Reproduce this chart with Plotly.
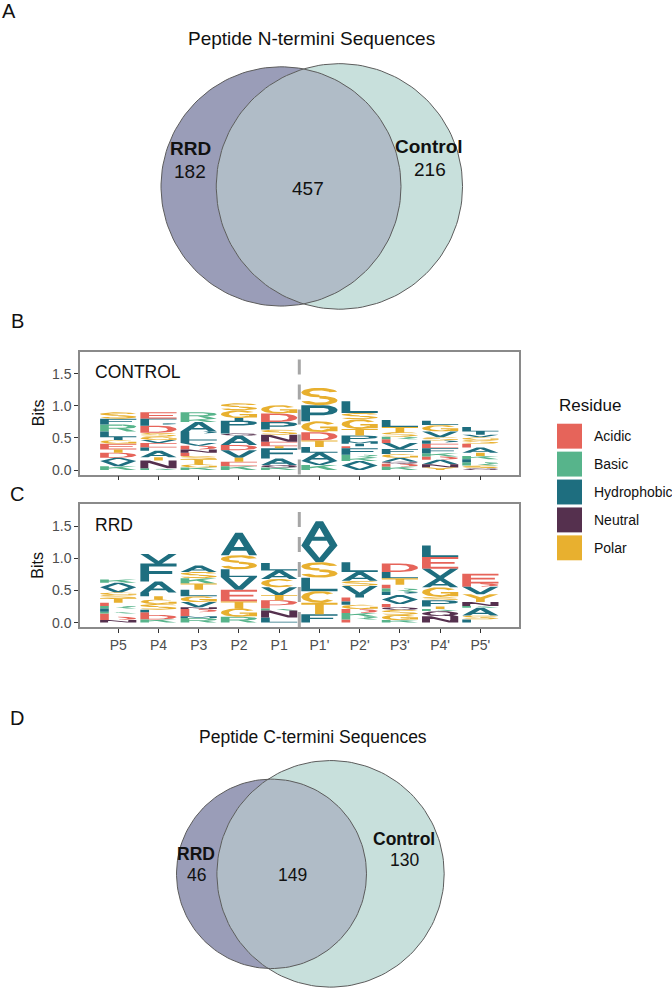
import math
import numpy as np
import plotly.graph_objects as go

# ---------------- data ----------------
set_names = ["RRD", "Control"]
n_termini_unique = [182, 216]
n_termini_shared = 457
c_termini_unique = [46, 130]
c_termini_shared = 149
n_title = "Peptide N-termini Sequences"
c_title = "Peptide C-termini Sequences"

positions = ["P5", "P4", "P3", "P2", "P1", "P1'", "P2'", "P3'", "P4'", "P5'"]
cleavage_between = 5.5

residue_classes = ["Acidic", "Basic", "Hydrophobic", "Neutral", "Polar"]
residue_members = ["DE", "KRH", "AVLIMFWP", "NQ", "GSTYC"]
residue_colors = ["#E6645A", "#57B48B", "#1E6E7F", "#55304E", "#E8B02F"]

# letters listed bottom -> top for each position, with their heights (bits)
control_letters = ["KVADTEGILRFS", "KNTALEVGSDPFE", "KGTSENDVFLPAKR", "KETVDAQLFPIGS",
                   "KQAFTENSPDG", "KVALTDGPS", "VAKRFEIMPTGSL", "KDQAGFVERSTL",
                   "YNADKFEPSVGL", "QSRFKTAESGVIL"]
control_bits = [
    [.06, .08, .05, .08, .05, .09, .06, .04, .09, .11, .09, .10],
    [.03, .12, .05, .10, .05, .07, .05, .05, .06, .11, .04, .07, .10],
    [.04, .05, .08, .05, .05, .05, .06, .04, .04, .09, .05, .15, .05, .10],
    [.06, .07, .06, .12, .08, .15, .03, .04, .04, .12, .04, .12, .11],
    [.04, .04, .10, .16, .03, .07, .11, .08, .12, .13, .13],
    [.08, .06, .13, .09, .10, .13, .17, .25, .27],
    [.07, .07, .05, .05, .10, .03, .04, .04, .09, .10, .15, .10, .18],
    [.05, .05, .03, .06, .06, .08, .09, .06, .04, .07, .08, .11],
    [.04, .05, .07, .05, .05, .08, .07, .05, .05, .09, .10, .07],
    [.03, .04, .05, .05, .05, .05, .08, .06, .06, .04, .04, .05, .07],
]
rrd_letters = ["NDEKLRETSGVAK", "KDELSGTLAFV", "RMEDNVGLTKSA", "RGTEVLSA", "LNKEDTVCAL",
               "FTCLSVA", "ERKDGFEIVSAL", "KGSQEVAPRETLD", "NQKTPSGAVEL", "LSAKNYVDE"]
rrd_bits = [
    [.04, .05, .05, .03, .05, .04, .05, .07, .05, .04, .08, .07, .05],
    [.05, .07, .04, .04, .09, .07, .05, .06, .17, .28, .15],
    [.07, .03, .06, .05, .03, .08, .09, .10, .10, .08, .10, .10],
    [.09, .13, .11, .18, .20, .12, .22, .35],
    [.08, .11, .03, .05, .08, .08, .12, .13, .13, .12],
    [.13, .18, .18, .21, .24, .26, .38],
    [.05, .04, .06, .06, .07, .05, .06, .04, .14, .08, .14, .15],
    [.04, .08, .08, .04, .05, .07, .07, .05, .05, .06, .10, .10, .13],
    [.10, .08, .03, .04, .10, .05, .15, .14, .15, .18, .18],
    [.05, .06, .12, .03, .06, .12, .12, .05, .15],
]

# ---------------- helpers ----------------
W, H = 672, 991
FONT = "Liberation Sans, Arial, Helvetica, sans-serif"


def px(x):
    return x / W


def py(y):
    return 1 - y / H


def rect(x0, y0, x1, y1):
    return [(x0, y0), (x1, y0), (x1, y1), (x0, y1)]


def arc(cx, cy, rx, ry, tx, ty, a0, a1, n=28):
    a = np.radians(np.linspace(a0, a1, n))
    outer = [(cx + rx * math.cos(t), cy + ry * math.sin(t)) for t in a]
    inner = [(cx + (rx - tx) * math.cos(t), cy + (ry - ty) * math.sin(t)) for t in a[::-1]]
    return outer + inner


P_BOWL = [rect(0, 0, 0.24, 1), rect(0, 0.83, 0.62, 1), rect(0, 0.38, 0.62, 0.55),
          arc(0.62, 0.69, 0.38, 0.31, 0.24, 0.17, -90, 90)]
GLYPHS = {
    "A": [[(0, 0), (0.22, 0), (0.6, 1), (0.4, 1)], [(0.78, 0), (1, 0), (0.6, 1), (0.4, 1)],
          rect(0.18, 0.2, 0.82, 0.36)],
    "V": [[(0, 1), (0.22, 1), (0.6, 0), (0.4, 0)], [(0.78, 1), (1, 1), (0.6, 0), (0.4, 0)]],
    "L": [rect(0, 0, 0.24, 1), rect(0, 0, 1, 0.17)],
    "T": [rect(0, 0.83, 1, 1), rect(0.38, 0, 0.62, 1)],
    "I": [rect(0.38, 0, 0.62, 1), rect(0.15, 0.85, 0.85, 1), rect(0.15, 0, 0.85, 0.15)],
    "E": [rect(0, 0, 0.24, 1), rect(0, 0.83, 1, 1), rect(0, 0.42, 0.9, 0.58), rect(0, 0, 1, 0.17)],
    "F": [rect(0, 0, 0.24, 1), rect(0, 0.83, 1, 1), rect(0, 0.42, 0.88, 0.58)],
    "P": P_BOWL,
    "R": P_BOWL + [[(0.42, 0.45), (0.68, 0.45), (1, 0), (0.74, 0)]],
    "D": [rect(0, 0, 0.24, 1), rect(0, 0.83, 0.5, 1), rect(0, 0, 0.5, 0.17),
          arc(0.5, 0.5, 0.5, 0.5, 0.24, 0.17, -90, 90)],
    "K": [rect(0, 0, 0.24, 1), [(0.2, 0.32), (1, 1), (0.7, 1), (0.2, 0.62)],
          [(0.42, 0.55), (0.72, 0), (1, 0), (0.62, 0.68)]],
    "N": [rect(0, 0, 0.22, 1), rect(0.78, 0, 1, 1), [(0, 1), (0.26, 1), (1, 0), (0.74, 0)]],
    "M": [rect(0, 0, 0.2, 1), rect(0.8, 0, 1, 1), [(0, 1), (0.22, 1), (0.58, 0.15), (0.42, 0.15)],
          [(1, 1), (0.78, 1), (0.42, 0.15), (0.58, 0.15)]],
    "H": [rect(0, 0, 0.24, 1), rect(0.76, 0, 1, 1), rect(0, 0.42, 1, 0.58)],
    "W": [[(0, 1), (0.18, 1), (0.35, 0), (0.2, 0)], [(0.5, 0.75), (0.35, 0), (0.2, 0)],
          [(1, 1), (0.82, 1), (0.65, 0), (0.8, 0)], [(0.5, 0.75), (0.65, 0), (0.8, 0)]],
    "Y": [[(0, 1), (0.24, 1), (0.62, 0.42), (0.38, 0.42)], [(1, 1), (0.76, 1), (0.38, 0.42), (0.62, 0.42)],
          rect(0.38, 0, 0.62, 0.5)],
    "S": [arc(0.5, 0.73, 0.5, 0.27, 0.22, 0.15, 10, 270), arc(0.5, 0.27, 0.5, 0.27, 0.22, 0.15, 90, -170)],
    "G": [arc(0.5, 0.5, 0.5, 0.5, 0.22, 0.17, 35, 325), rect(0.52, 0.36, 1, 0.52), rect(0.78, 0.08, 1, 0.52)],
    "C": [arc(0.5, 0.5, 0.5, 0.5, 0.22, 0.17, 40, 320)],
    "Q": [arc(0.5, 0.5, 0.5, 0.5, 0.22, 0.17, 0, 360, n=40), [(0.55, 0.32), (0.78, 0.32), (1, 0), (0.77, 0)]],
}


def ccw(poly):
    s = 0.0
    for (x0, y0), (x1, y1) in zip(poly, poly[1:] + poly[:1]):
        s += x0 * y1 - x1 * y0
    return poly if s >= 0 else poly[::-1]


def class_of(ch):
    for k, members in enumerate(residue_members):
        if ch in members:
            return k
    return 2


def logo_traces(letters, bits, xa, ya, width=0.9):
    xs = [[] for _ in residue_classes]
    ys = [[] for _ in residue_classes]
    for i, (lets, hs) in enumerate(zip(letters, bits)):
        xc = i + 1
        base = 0.0
        for ch, h in zip(lets, hs):
            k = class_of(ch)
            for poly in GLYPHS[ch]:
                poly = ccw(list(poly))
                for (u, v) in poly + [poly[0]]:
                    xs[k].append(xc - width / 2 + width * u)
                    ys[k].append(base + h * v)
                xs[k].append(None)
                ys[k].append(None)
            base += h
    out = []
    for k, col in enumerate(residue_colors):
        out.append(go.Scatter(x=xs[k], y=ys[k], mode="lines", fill="toself", fillcolor=col,
                              line=dict(width=0, color=col), hoverinfo="skip", showlegend=False,
                              xaxis=xa, yaxis=ya))
    return out


def lens_area(r1, r2, d):
    if d >= r1 + r2:
        return 0.0
    if d <= abs(r1 - r2):
        return math.pi * min(r1, r2) ** 2
    a1 = r1 ** 2 * math.acos((d * d + r1 * r1 - r2 * r2) / (2 * d * r1))
    a2 = r2 ** 2 * math.acos((d * d + r2 * r2 - r1 * r1) / (2 * d * r2))
    a3 = 0.5 * math.sqrt((-d + r1 + r2) * (d + r1 - r2) * (d - r1 + r2) * (d + r1 + r2))
    return a1 + a2 - a3


def venn_geometry(unique, shared):
    r1 = math.sqrt((unique[0] + shared) / math.pi)
    r2 = math.sqrt((unique[1] + shared) / math.pi)
    lo, hi = abs(r1 - r2), r1 + r2
    for _ in range(80):
        mid = (lo + hi) / 2
        if lens_area(r1, r2, mid) > shared:
            lo = mid
        else:
            hi = mid
    return r1, r2, (lo + hi) / 2


def circle_xy(cx, r, a0=0, a1=360, n=160):
    t = np.radians(np.linspace(a0, a1, n))
    return list(cx + r * np.cos(t)), list(r * np.sin(t))


def venn_traces(unique, shared, xa, ya):
    r1, r2, d = venn_geometry(unique, shared)
    a = (d * d + r1 * r1 - r2 * r2) / (2 * d)
    h = math.sqrt(max(r1 * r1 - a * a, 0))
    th1 = math.degrees(math.atan2(h, a))
    ph2 = math.degrees(math.atan2(h, a - d))
    x1, y1 = circle_xy(0, r1)
    x2, y2 = circle_xy(d, r2)
    lx1, ly1 = circle_xy(0, r1, -th1, th1, 80)
    lx2, ly2 = circle_xy(d, r2, ph2, 360 - ph2, 80)
    common = dict(mode="lines", hoverinfo="skip", showlegend=False, xaxis=xa, yaxis=ya)
    tr = [
        go.Scatter(x=x1, y=y1, fill="toself", fillcolor="#9a9db8", line=dict(width=0), **common),
        go.Scatter(x=x2, y=y2, fill="toself", fillcolor="#c8e0dc", line=dict(width=0), **common),
        go.Scatter(x=lx1 + lx2, y=ly1 + ly2, fill="toself", fillcolor="#b0bcc7", line=dict(width=0), **common),
        go.Scatter(x=x1, y=y1, line=dict(width=1, color="#5c5c5c"), **common),
        go.Scatter(x=x2, y=y2, line=dict(width=1, color="#5c5c5c"), **common),
    ]
    return tr, r1


fig = go.Figure()

# ---- Venn A ----
trA, r1A = venn_traces(n_termini_unique, n_termini_shared, "x", "y")
for t in trA:
    fig.add_trace(t)
# ---- Logos ----
for t in logo_traces(control_letters, control_bits, "x2", "y2"):
    fig.add_trace(t)
for t in logo_traces(rrd_letters, rrd_bits, "x3", "y3"):
    fig.add_trace(t)
# ---- Venn D ----
trD, r1D = venn_traces(c_termini_unique, c_termini_shared, "x4", "y4")
for t in trD:
    fig.add_trace(t)


def venn_axes(cx_px, cy_px, r_px, r_data, xpx, ypx):
    s = r_px / r_data
    xr = [(xpx[0] - cx_px) / s, (xpx[1] - cx_px) / s]
    yr = [(cy_px - ypx[1]) / s, (cy_px - ypx[0]) / s]
    ax = dict(visible=False, showgrid=False, zeroline=False, fixedrange=True)
    return (dict(domain=[px(xpx[0]), px(xpx[1])], range=xr, **ax),
            dict(domain=[py(ypx[1]), py(ypx[0])], range=yr, **ax))


xA, yA = venn_axes(281, 187, 120, r1A, (120, 520), (48, 335))
xD, yD = venn_axes(271.5, 876.5, 95, r1D, (140, 500), (752, 991))

tick_font = dict(family=FONT, size=14, color="#4d4d4d")


def logo_x(show_labels, anchor):
    return dict(domain=[px(80), px(519)], range=[0.05, 10.96], tickmode="array",
                tickvals=list(range(1, len(positions) + 1)), ticktext=positions,
                showticklabels=show_labels, ticks="outside", ticklen=4, tickwidth=1,
                tickcolor="#333333", showline=True, mirror=True, linecolor="#8a8a8a",
                linewidth=1.5, showgrid=False, zeroline=False, tickfont=tick_font, anchor=anchor)


def logo_y(top, bottom, anchor):
    return dict(domain=[py(bottom), py(top)], range=[-0.07, 1.84], tickmode="array",
                tickvals=[0, 0.5, 1.0, 1.5], ticktext=["0.0", "0.5", "1.0", "1.5"],
                ticks="outside", ticklen=4, tickwidth=1, tickcolor="#333333",
                showline=True, mirror=True, linecolor="#8a8a8a", linewidth=1.5,
                showgrid=False, zeroline=False, tickfont=tick_font, anchor=anchor)


fig.update_layout(
    width=W, height=H, margin=dict(l=0, r=0, t=0, b=0),
    paper_bgcolor="white", plot_bgcolor="rgba(0,0,0,0)",
    xaxis=xA, yaxis=yA, xaxis4=dict(xD, anchor="y4"), yaxis4=dict(yD, anchor="x4"),
    xaxis2=logo_x(False, "y2"), yaxis2=logo_y(353, 476, "x2"),
    xaxis3=logo_x(True, "y3"), yaxis3=logo_y(506, 629, "x3"),
    showlegend=False,
)

# cleavage site dashed lines
for ya in ("y2", "y3"):
    fig.add_shape(type="line", x0=cleavage_between, x1=cleavage_between, y0=0, y1=1,
                  xref=ya.replace("y", "x"), yref=ya + " domain",
                  line=dict(color="#a6a6a6", width=3, dash="15px,10px"))

ann = []


def text(x, y, s, size, bold=False, color="#111111", xanchor="center", angle=0):
    ann.append(dict(x=px(x), y=py(y), xref="paper", yref="paper", text=f"<b>{s}</b>" if bold else s,
                    showarrow=False, xanchor=xanchor, yanchor="middle", textangle=angle,
                    font=dict(family=FONT, size=size, color=color)))


# panel letters
text(9, 11, "A", 20)
text(17, 322, "B", 20)
text(17, 496, "C", 20)
text(17, 720, "D", 20)

# Venn A
text(311, 39, n_title, 19)
text(190, 149, set_names[0], 19, bold=True)
text(190, 172, str(n_termini_unique[0]), 19)
text(308, 189, str(n_termini_shared), 19)
text(429, 147, set_names[1], 19, bold=True)
text(430, 170, str(n_termini_unique[1]), 19)

# Venn D
text(313, 739, c_title, 17.5)
text(196, 857, set_names[0], 17.5, bold=True)
text(196, 878, str(c_termini_unique[0]), 17.5)
text(292, 878, str(c_termini_shared), 17.5)
text(404, 842, set_names[1], 17.5, bold=True)
text(404, 863, str(c_termini_unique[1]), 17.5)

# logos
text(93, 373, "CONTROL", 17.5, xanchor="left")
text(93, 527, "RRD", 17.5, xanchor="left")
text(38, 414.5, "Bits", 16, angle=-90)
text(38, 567.5, "Bits", 16, angle=-90)

# legend
text(557, 407, "Residue", 17, xanchor="left")
for k, (name, col) in enumerate(zip(residue_classes, residue_colors)):
    y0 = 425 + 28 * k
    fig.add_shape(type="rect", xref="paper", yref="paper", x0=px(557), x1=px(582),
                  y0=py(y0 + 25), y1=py(y0), fillcolor=col, line=dict(width=0))
    text(592, y0 + 12.5, name, 14, xanchor="left")

fig.update_layout(annotations=ann)
fig.write_html("out.html")
